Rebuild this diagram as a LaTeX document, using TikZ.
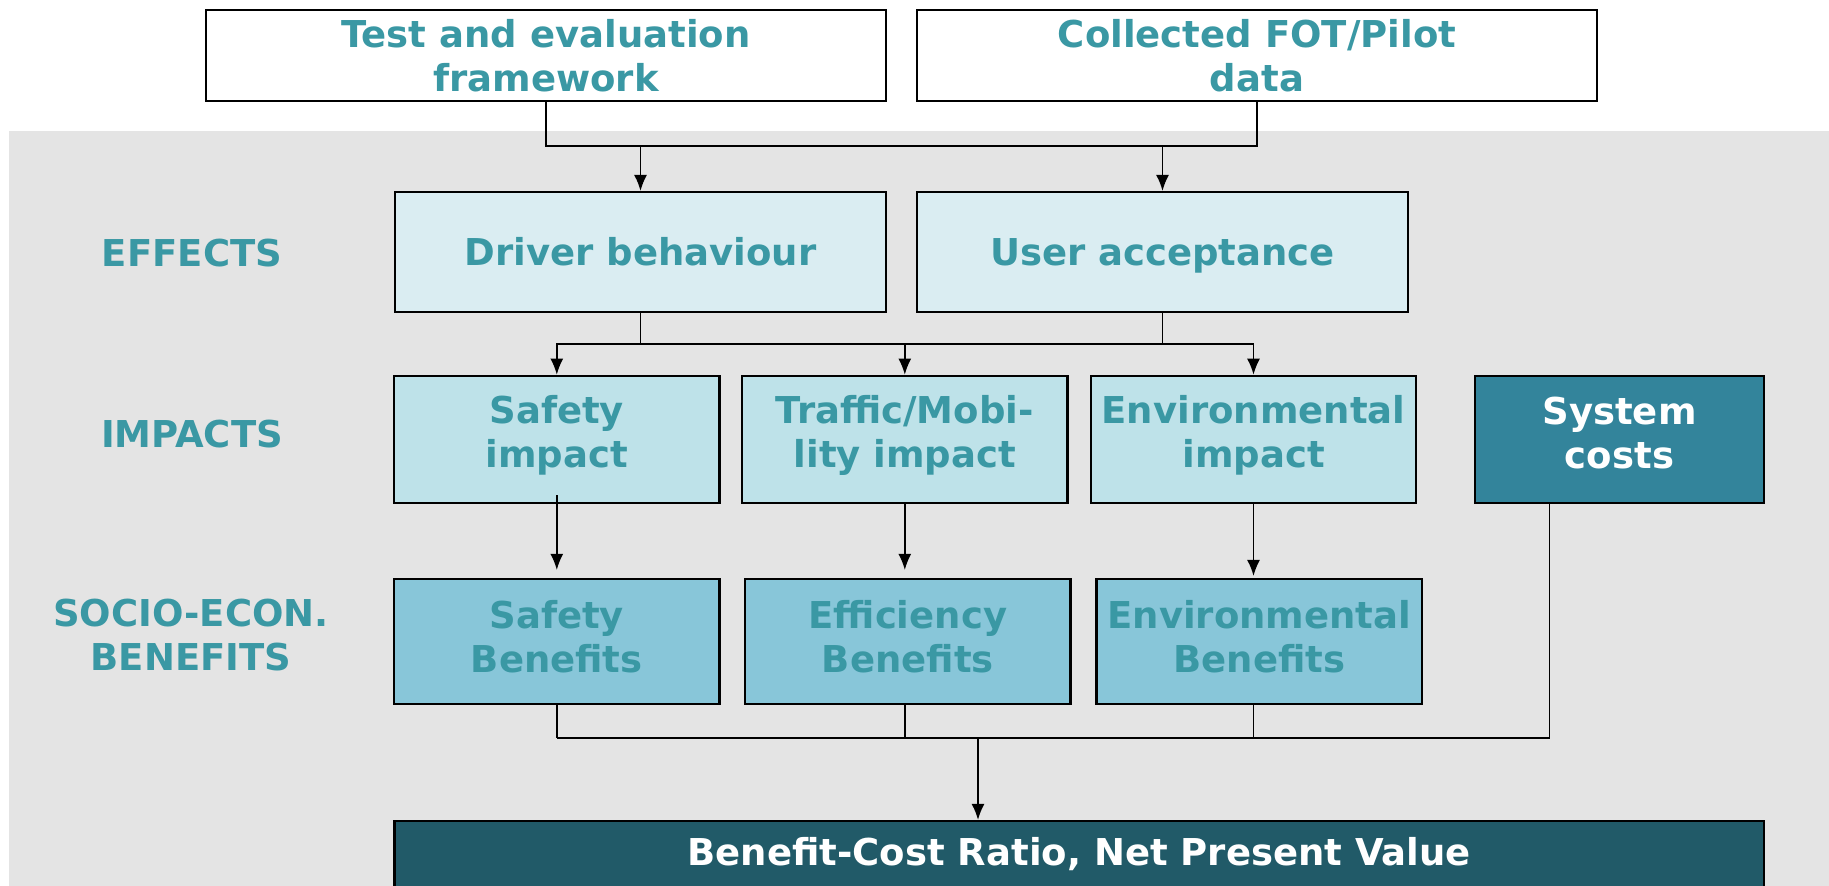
\documentclass[tikz,border=0pt]{standalone}
\usepackage{fontspec}
\setmainfont{DejaVu Sans}
\usetikzlibrary{arrows.meta,calc}
\definecolor{tealtext}{HTML}{3A98A4}
\definecolor{bggray}{HTML}{E4E4E4}
\definecolor{effectfill}{HTML}{DAEDF2}
\definecolor{impactfill}{HTML}{BEE2E9}
\definecolor{benefitfill}{HTML}{88C6D9}
\definecolor{costfill}{HTML}{33849B}
\definecolor{resultfill}{HTML}{215A68}
\begin{document}
\begin{tikzpicture}[x=1pt,y=-1pt,
  box/.style={draw=black,line width=2.2pt,inner sep=0pt,align=center,
    font=\fontsize{37}{44}\selectfont\bfseries,text=tealtext},
  boxtext/.style={inner sep=0pt,align=center,
    font=\fontsize{37}{44}\selectfont\bfseries,text=tealtext},
  rowlabel/.style={align=center,font=\fontsize{37}{44}\selectfont\bfseries,text=tealtext},
  link/.style={line width=1.6pt},
  arr/.style={link,-{Latex[length=16pt,width=13pt]}}]
\useasboundingbox (0,0) rectangle (1829,886);
\clip (0,0) rectangle (1829,886);
% backdrop
\fill[bggray] (9,131) rectangle (1829,886);

% inputs
\node[box,fill=white,minimum width=680,minimum height=91] (test) at (546,55.4) {Test and evaluation\\framework};
\node[box,fill=white,minimum width=680,minimum height=91] (fot) at (1257,55.4) {Collected FOT/Pilot\\data};

% effects
\node[box,fill=effectfill,minimum width=491,minimum height=120] (driver) at (640.5,252) {Driver behaviour};
\node[box,fill=effectfill,minimum width=491,minimum height=120,text depth=0pt] (user) at (1162.5,252) {User acceptance};

% impacts
\node[box,fill=impactfill,minimum width=325.5,minimum height=127.5,
  label={[boxtext,yshift=4pt]center:{Safety\\impact}}] (safimp) at (556.8,439.5) {};
\node[box,fill=impactfill,minimum width=325.5,minimum height=127.5,
  label={[boxtext,yshift=4pt]center:{Traffic/Mobi-\\lity impact}}] (trafimp) at (904.8,439.5) {};
\node[box,fill=impactfill,minimum width=325.5,minimum height=127.5,
  label={[boxtext,yshift=4pt]center:{Environmental\\impact}}] (envimp) at (1253.5,439.5) {};
\node[box,fill=costfill,minimum width=289,minimum height=127.5,
  label={[boxtext,text=white,yshift=6pt]center:{System\\costs}}] (syscost) at (1619.5,439.5) {};

% socio-economic benefits
\node[box,fill=benefitfill,minimum width=325.5,minimum height=125,
  label={[boxtext,yshift=5pt]center:{Safety\\Benefits}}] (safben) at (556.8,641.5) {};
\node[box,fill=benefitfill,minimum width=325.5,minimum height=125,
  label={[boxtext,yshift=5pt]center:{Efficiency\\Benefits}}] (effben) at (907.8,641.5) {};
\node[box,fill=benefitfill,minimum width=325.5,minimum height=125,
  label={[boxtext,yshift=5pt]center:{Environmental\\Benefits}}] (envben) at (1259.3,641.5) {};

% result
\node[box,fill=resultfill,text=white,minimum width=1369.6,minimum height=67] (bcr) at (1079.2,854.5) {Benefit-Cost Ratio, Net Present Value};

% row labels
\node[rowlabel] (lbleff) at (192,253) {EFFECTS};
\node[rowlabel] (lblimp) at (192,434) {IMPACTS};
\node[rowlabel] (lblben) at (191,635) {SOCIO-ECON.\\BENEFITS};

% inputs -> effects
\coordinate (bus1) at (640.5,146);
\draw[link] (test.south) |- (bus1) -| (fot.south);
\draw[arr] (bus1) -- (driver.north);
\draw[arr] (bus1 -| user.north) -- (user.north);

% effects -> impacts
\coordinate (bus2) at (640.5,344);
\draw[link] (driver.south) -- (bus2);
\draw[link] (user.south) -- (user.south |- bus2);
\draw[arr] (bus2) -| (safimp.north);
\draw[arr] (bus2) -| (envimp.north);
\draw[arr] (trafimp.north |- bus2) -- (trafimp.north);

% impacts -> benefits
\draw[arr,shorten <=-9pt,shorten >=8pt] (safimp.south) -- (safimp.south |- safben.north);
\draw[arr,shorten >=8pt] (trafimp.south) -- (trafimp.south |- effben.north);
\draw[arr,shorten >=2pt] (envimp.south) -- (envimp.south |- envben.north);

% benefits and costs -> result
\coordinate (bus3) at (978,738);
\coordinate (costdrop) at ($(syscost.south)+(-70,0)$);
\draw[link,line width=2.4pt] (safben.south |- bus3) -- (costdrop |- bus3);
\draw[link] (safben.south) -- (safben.south |- bus3);
\draw[link] (effben.south -| trafimp.south) -- (trafimp.south |- bus3);
\draw[link] (envben.south -| envimp.south) -- (envimp.south |- bus3);
\draw[link] (costdrop) -- (costdrop |- bus3);
\draw[arr] (bus3) -- (bus3 |- bcr.north);
\end{tikzpicture}
\end{document}
